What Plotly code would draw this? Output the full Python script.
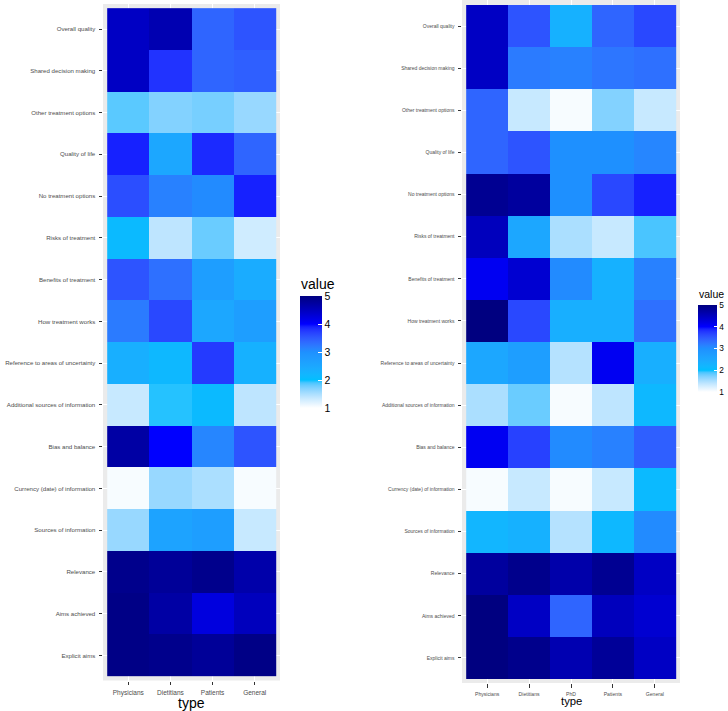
import plotly.graph_objects as go

rows = ["Overall quality", "Shared decision making", "Other treatment options", "Quality of life",
        "No treatment options", "Risks of treatment", "Benefits of treatment", "How treatment works",
        "Reference to areas of uncertainty", "Additional sources of information", "Bias and balance",
        "Currency (date) of information", "Sources of information", "Relevance", "Aims achieved",
        "Explicit aims"]

types_left = ["Physicians", "Dietitians", "Patients", "General"]
types_right = ["Physicians", "Dietitians", "PhD", "Patients", "General"]

physicians_l = [4.45, 4.45, 1.85, 3.9, 3.6, 2.1, 3.55, 3.2, 2.35, 1.35, 4.7, 1.05, 1.6, 4.9, 4.95, 4.95]
dietitians_l = [4.6, 3.8, 1.7, 2.5, 3.15, 1.4, 3.3, 3.65, 2.15, 1.95, 4.0, 1.6, 2.6, 4.8, 4.7, 4.9]
patients_l = [3.4, 3.4, 1.75, 3.85, 3.05, 1.8, 2.7, 2.5, 3.75, 2.1, 3.1, 1.5, 2.7, 4.9, 4.25, 4.8]
general_l = [3.55, 3.45, 1.6, 3.4, 3.9, 1.3, 2.4, 2.7, 2.3, 1.4, 3.55, 1.05, 1.35, 4.65, 4.5, 4.95]

physicians_r = [4.45, 4.45, 3.4, 3.4, 4.85, 4.5, 4.1, 5.0, 2.5, 1.5, 4.1, 1.05, 2.2, 4.75, 5.0, 5.0]
dietitians_r = [3.55, 3.2, 1.35, 3.55, 4.75, 2.5, 4.35, 3.65, 2.7, 1.8, 3.7, 1.35, 2.3, 4.9, 4.45, 4.9]
phd_r = [2.3, 3.15, 1.05, 3.0, 3.0, 1.5, 3.05, 2.35, 1.45, 1.05, 3.05, 1.05, 1.45, 4.65, 3.4, 4.6]
patients_r = [3.4, 3.25, 1.7, 3.0, 3.65, 1.35, 2.3, 2.35, 4.1, 1.4, 3.15, 1.35, 2.15, 4.85, 4.5, 4.8]
general_r = [3.65, 3.3, 1.35, 3.1, 3.9, 1.9, 3.15, 3.3, 2.35, 2.15, 3.45, 2.1, 3.05, 4.45, 4.35, 4.45]

legend_ticks = [1, 2, 3, 4, 5]
palette = ["#FFFFFF", "#00BFFF", "#1E90FF", "#0000FF", "#000080"]


# ---- Lab-space interpolation of the palette (like ggplot's gradientn) ----
def hex_to_rgb(h):
    h = h.lstrip("#")
    return [int(h[i:i + 2], 16) / 255 for i in (0, 2, 4)]


def lin(c):
    return c / 12.92 if c <= 0.04045 else ((c + 0.055) / 1.055) ** 2.4


def delin(c):
    v = 12.92 * c if c <= 0.0031308 else 1.055 * c ** (1 / 2.4) - 0.055
    return min(1, max(0, v))


WN = (0.95047, 1.0, 1.08883)


def rgb_to_lab(rgb):
    r, g, b = [lin(c) for c in rgb]
    x = 0.4124 * r + 0.3576 * g + 0.1805 * b
    y = 0.2126 * r + 0.7152 * g + 0.0722 * b
    z = 0.0193 * r + 0.1192 * g + 0.9505 * b

    def f(t):
        return t ** (1 / 3) if t > 0.008856 else 7.787 * t + 16 / 116
    fx, fy, fz = f(x / WN[0]), f(y / WN[1]), f(z / WN[2])
    return [116 * fy - 16, 500 * (fx - fy), 200 * (fy - fz)]


def lab_to_rgb(lab):
    L, a, b = lab
    fy = (L + 16) / 116
    fx = fy + a / 500
    fz = fy - b / 200

    def finv(t):
        return t ** 3 if t ** 3 > 0.008856 else (t - 16 / 116) / 7.787
    x, y, z = finv(fx) * WN[0], finv(fy) * WN[1], finv(fz) * WN[2]
    r = 3.2406 * x - 1.5372 * y - 0.4986 * z
    g = -0.9689 * x + 1.8758 * y + 0.0415 * z
    bb = 0.0557 * x - 0.2040 * y + 1.0570 * z
    return [delin(c) for c in (r, g, bb)]


labs = [rgb_to_lab(hex_to_rgb(c)) for c in palette]
scale = []
N = 40
for i in range(N + 1):
    t = i / N
    seg = min(int(t * (len(palette) - 1)), len(palette) - 2)
    lt = t * (len(palette) - 1) - seg
    lab = [labs[seg][k] + (labs[seg + 1][k] - labs[seg][k]) * lt for k in range(3)]
    r, g, b = lab_to_rgb(lab)
    scale.append([t, "rgb(%d,%d,%d)" % (round(r * 255), round(g * 255), round(b * 255))])

W, H = 728, 711


def px_x(v):
    return v / W


def px_y(v):
    return min(1.0, 1 - v / H)


z_left = [list(r) for r in zip(physicians_l, dietitians_l, patients_l, general_l)]
z_right = [list(r) for r in zip(physicians_r, dietitians_r, phd_r, patients_r, general_r)]

fig = go.Figure()
fig.add_trace(go.Heatmap(z=z_left, x=types_left, y=rows, coloraxis="coloraxis",
                         xaxis="x", yaxis="y"))
fig.add_trace(go.Heatmap(z=z_right, x=types_right, y=rows, coloraxis="coloraxis2",
                         xaxis="x2", yaxis="y2"))

font_family = "Liberation Sans, Arial, sans-serif"
tick_col = "#4D4D4D"

common_axis = dict(type="category", showgrid=True, gridcolor="white", gridwidth=1.1,
                   zeroline=False, showline=False, ticks="outside", ticklen=3.5,
                   tickcolor="#333333", tickwidth=1, automargin=False)

nrow = len(rows)
pitch_r = (679 - 5) / nrow
r_top = -0.5 - 5 / pitch_r
r_bot = nrow - 0.5 + (683 - 679) / pitch_r

fig.update_layout(
    width=W, height=H,
    margin=dict(l=0, r=0, t=0, b=0, autoexpand=False),
    paper_bgcolor="white",
    plot_bgcolor="#EBEBEB",
    font=dict(family=font_family, color=tick_col),
    xaxis=dict(domain=[px_x(103), px_x(280)], anchor="y",
               range=[-0.6, len(types_left) - 0.4],
               tickfont=dict(size=6.5, color=tick_col), ticklabelstandoff=2, **common_axis),
    yaxis=dict(domain=[px_y(680.5), px_y(4)], anchor="x",
               range=[nrow - 0.4, -0.6],
               tickfont=dict(size=6.1, color=tick_col), ticklabelstandoff=2, **common_axis),
    xaxis2=dict(domain=[px_x(462), px_x(680)], anchor="y2",
                range=[-0.6, len(types_right) - 0.4],
                tickfont=dict(size=5.1, color=tick_col), ticklabelstandoff=2, **common_axis),
    yaxis2=dict(domain=[px_y(683), px_y(0)], anchor="x2",
                range=[r_bot, r_top],
                tickfont=dict(size=5.0, color=tick_col), ticklabelstandoff=2, **common_axis),
    coloraxis=dict(
        colorscale=scale, cmin=1, cmax=5,
        colorbar=dict(x=px_x(300), xanchor="left", y=px_y(352), yanchor="middle",
                      lenmode="pixels", len=112, thickness=22, xpad=0, ypad=0,
                      outlinewidth=0, tickvals=legend_ticks, ticks="inside",
                      tickcolor="white", ticklen=4, tickwidth=1, tickprefix="\u00a0",
                      tickfont=dict(size=10.5, color="black", family=font_family))),
    coloraxis2=dict(
        colorscale=scale, cmin=1, cmax=5,
        colorbar=dict(x=px_x(698), xanchor="left", y=px_y(348.5), yanchor="middle",
                      lenmode="pixels", len=87, thickness=19, xpad=0, ypad=0,
                      outlinewidth=0, tickvals=legend_ticks, ticks="inside",
                      tickcolor="white", ticklen=3, tickwidth=1,
                      tickfont=dict(size=8.3, color="black", family=font_family))),
    annotations=[
        dict(text="type", x=px_x(191.5), y=px_y(703), xref="paper", yref="paper",
             showarrow=False, font=dict(size=14, color="black", family=font_family),
             xanchor="center", yanchor="middle"),
        dict(text="type", x=px_x(571), y=px_y(701), xref="paper", yref="paper",
             showarrow=False, font=dict(size=11.3, color="black", family=font_family),
             xanchor="center", yanchor="middle"),
        dict(text="value", x=px_x(299), y=px_y(284), xref="paper", yref="paper",
             showarrow=False, font=dict(size=14, color="black", family=font_family),
             xanchor="left", yanchor="middle"),
        dict(text="value", x=px_x(697), y=px_y(294), xref="paper", yref="paper",
             showarrow=False, font=dict(size=10.5, color="black", family=font_family),
             xanchor="left", yanchor="middle"),
    ],
)

# remove the browser's default 8px body margin so the figure sits at the window origin
fig.write_html("out.html",
               config={"displayModeBar": False},
               post_script="document.body.style.margin='0px';document.body.style.overflow='hidden';")
